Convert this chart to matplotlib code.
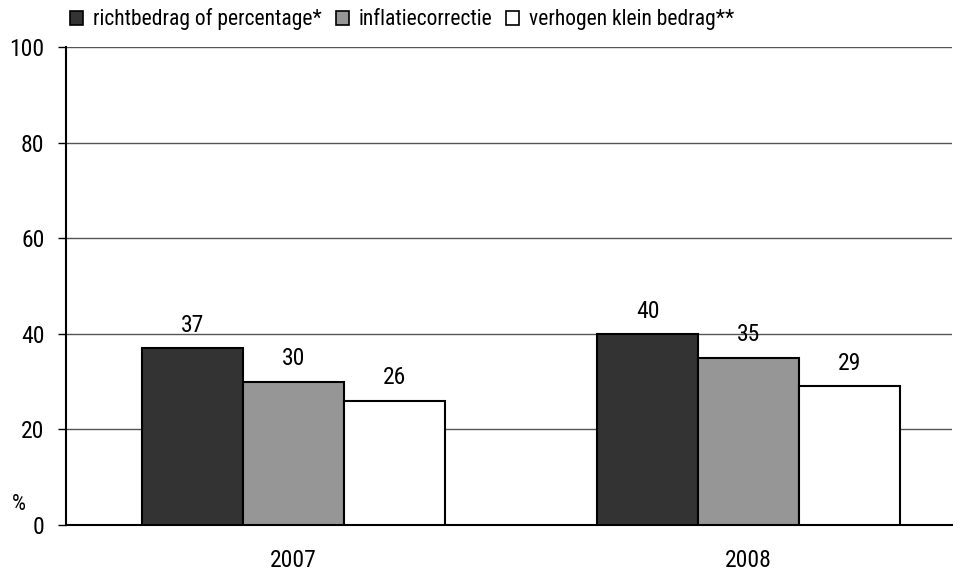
import matplotlib
matplotlib.use("Agg")
import matplotlib.pyplot as plt
import numpy as np

years = ["2007", "2008"]
series_names = ["richtbedrag of percentage*", "inflatiecorrectie", "verhogen klein bedrag**"]
richtbedrag = [37, 40]
inflatie = [30, 35]
klein = [26, 29]
yticks = [0, 20, 40, 60, 80, 100]

colors = ["#333333", "#969696", "#ffffff"]
plt.rcParams['font.family'] = ["Roboto Condensed", "DejaVu Sans"]

fig = plt.figure(figsize=(9.62, 5.71), dpi=100)
ax = fig.add_axes([66/962, 1-525/571, (952-66)/962, (525-47)/571])

x = np.arange(len(years))
w = 0.222
vals = [richtbedrag, inflatie, klein]
for i, (v, c) in enumerate(zip(vals, colors)):
    bars = ax.bar(x + (i-1)*w, v, w, color=c, edgecolor="black", linewidth=1.5, zorder=3, label=series_names[i])
    for b, val in zip(bars, v):
        ax.text(b.get_x()+b.get_width()/2, val+3.4, str(val), ha="center", va="baseline", fontsize=17, zorder=4)

ax.set_xlim(-0.5, 1.447)
ax.set_ylim(0, 100)
ax.set_yticks(yticks)
ax.set_yticklabels([str(t) for t in yticks], fontsize=17)
ax.set_xticks(x)
ax.set_xticklabels(years, fontsize=17)
ax.tick_params(axis="x", length=0, pad=17.5)
ax.tick_params(axis="y", length=6, width=1, direction="out", pad=9.5)
ax.yaxis.grid(True, color="#555555", linewidth=1, zorder=0)
for s in ["top", "right"]:
    ax.spines[s].set_visible(False)
ax.spines["left"].set_linewidth(1.5)
ax.spines["bottom"].set_linewidth(1.5)
ax.axhline(100, color="#222222", linewidth=1.3, zorder=1)

fig.text(12/962, 1-505/571, "%", fontsize=16, ha="left", va="center")

leg = ax.legend(loc="lower left", bbox_to_anchor=(0.0, 1.026), ncol=3, frameon=False, fontsize=15.5,
                handlelength=0.6, handleheight=0.6, handletextpad=0.45, columnspacing=0.65,
                borderaxespad=0.0, borderpad=0.2)
for p in leg.get_patches():
    p.set_linewidth(1.2)

fig.savefig("out.png", dpi=100)
